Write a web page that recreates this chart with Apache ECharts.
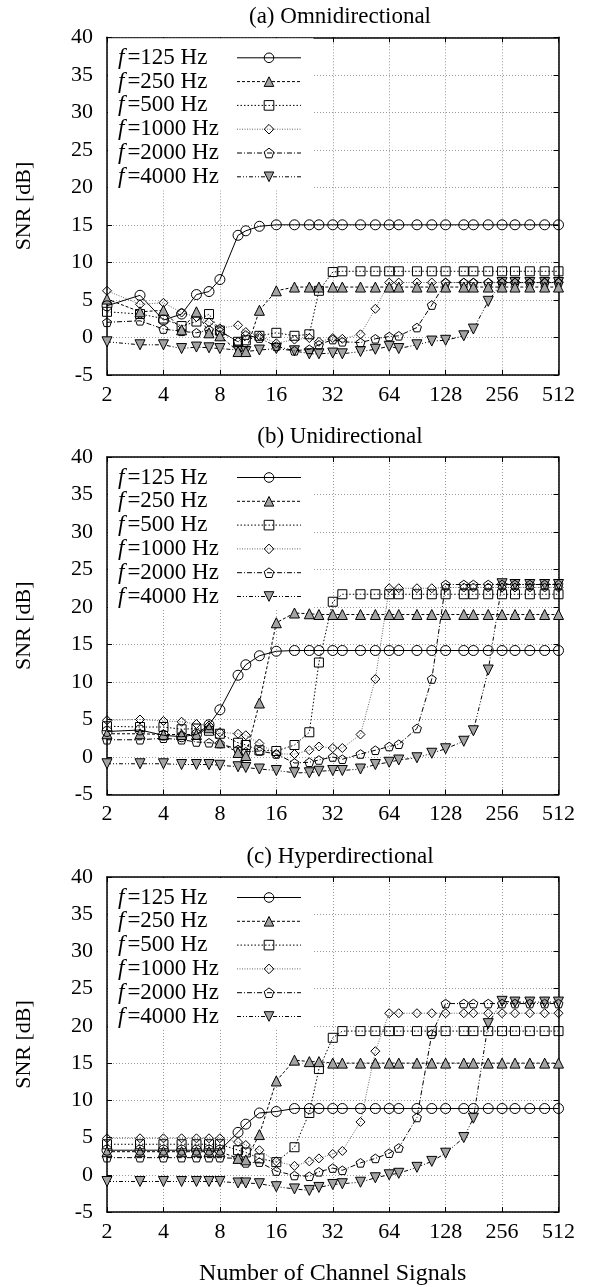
<!DOCTYPE html>
<html><head><meta charset="utf-8">
<script src="https://cdn.jsdelivr.net/npm/echarts@6/dist/echarts.min.js"></script>
<style>html,body{margin:0;padding:0;background:#fff}#c{width:589px;height:1287px}</style>
</head><body><div id="c"></div>
<script>
// ---- data ----
const channels = [2,3,4,5,6,7,8,10,11,13,16,20,24,27,32,36,45,54,64,72,90,108,128,160,180,216,256,300,360,432,512];
const seriesNames = ['f=125 Hz','f=250 Hz','f=500 Hz','f=1000 Hz','f=2000 Hz','f=4000 Hz'];
const panelTitles = ['(a) Omnidirectional','(b) Unidirectional','(c) Hyperdirectional'];
const xAxisTitle = 'Number of Channel Signals';
const yAxisTitle = 'SNR [dB]';
const yMin = -5, yMax = 40, yStep = 5;
const xMin = 2, xMax = 512;

// (a) Omnidirectional
const omni125  = [4.2,5.6,2.3,3.1,5.7,6.1,7.7,13.6,14.2,14.8,15.0,15.0,15.0,15.0,15.0,15.0,15.0,15.0,15.0,15.0,15.0,15.0,15.0,15.0,15.0,15.0,15.0,15.0,15.0,15.0,15.0];
const omni250  = [5.1,3.4,3.6,1.0,3.4,0.6,0.2,-1.9,-1.9,3.6,6.2,6.7,6.7,6.7,6.7,6.7,6.7,6.7,6.7,6.7,6.7,6.7,6.7,6.7,6.7,6.7,6.7,6.7,6.7,6.7,6.7];
const omni500  = [3.4,3.1,2.5,1.5,2.1,3.1,0.9,-0.6,-0.4,0.2,0.6,0.2,0.4,6.2,8.7,8.8,8.8,8.8,8.8,8.8,8.8,8.8,8.8,8.8,8.8,8.8,8.8,8.8,8.8,8.8,8.8];
const omni1000 = [6.2,4.4,4.6,3.3,2.7,2.0,1.2,1.6,0.7,0.2,-0.8,-0.3,-0.1,-0.6,-0.1,-0.2,0.4,3.8,7.3,7.3,7.3,7.3,7.3,7.3,7.3,7.3,7.3,7.3,7.3,7.3,7.3];
const omni2000 = [2.0,2.2,1.1,0.8,0.6,1.0,0.8,-0.6,0.3,-0.1,-1.2,-1.8,-1.6,-1.0,-0.3,-0.6,-0.7,-0.2,0.1,0.2,1.3,4.3,7.3,7.3,7.3,7.3,7.3,7.3,7.3,7.3,7.3];
const omni4000 = [-0.6,-1.0,-1.0,-1.5,-1.3,-1.4,-1.5,-1.7,-1.9,-1.7,-1.5,-1.8,-2.2,-2.2,-2.1,-2.2,-1.9,-1.6,-1.2,-1.5,-1.0,-0.5,-0.4,0.2,1.1,4.8,7.3,7.3,7.3,7.3,7.3];

// (b) Unidirectional
const uni125  = [3.4,3.6,2.9,2.7,3.0,4.3,6.3,10.9,12.3,13.5,14.1,14.2,14.2,14.2,14.2,14.2,14.2,14.2,14.2,14.2,14.2,14.2,14.2,14.2,14.2,14.2,14.2,14.2,14.2,14.2,14.2];
const uni250  = [3.1,3.1,3.0,3.0,3.0,3.9,1.9,0.6,0.2,7.2,17.9,19.2,19.1,19.0,19.0,19.0,19.0,19.0,19.0,19.0,19.0,19.0,19.0,19.0,19.0,19.0,19.0,19.0,19.0,19.0,19.0];
const uni500  = [4.1,4.0,4.0,3.7,3.8,3.5,3.1,1.9,1.6,0.9,0.8,1.6,3.3,12.6,20.7,21.7,21.7,21.7,21.7,21.7,21.7,21.7,21.7,21.7,21.7,21.7,21.7,21.7,21.7,21.7,21.7];
const uni1000 = [4.9,5.0,4.8,4.7,4.4,4.2,3.3,3.1,2.9,1.8,0.4,0.4,0.9,1.4,1.2,1.2,3.0,10.4,22.5,22.5,22.5,22.5,22.6,22.6,22.6,22.6,22.6,22.6,22.6,22.6,22.6];
const uni2000 = [2.3,2.3,2.5,2.3,2.0,1.9,1.8,1.0,0.7,0.8,0.4,-0.8,-0.7,-0.4,0.0,-0.3,0.4,0.9,1.4,1.7,3.8,10.4,23.0,23.0,23.0,23.0,23.0,23.0,23.0,23.0,23.0];
const uni4000 = [-0.9,-0.9,-0.9,-1.0,-1.0,-1.0,-1.1,-1.3,-1.4,-1.6,-1.8,-2.1,-2.1,-1.9,-1.8,-1.8,-1.6,-1.0,-0.7,-0.4,-0.1,0.5,1.1,2.1,3.5,11.6,23.1,23.0,23.0,23.0,23.0];

// (c) Hyperdirectional
const hyper125  = [3.3,3.3,3.3,3.3,3.3,3.3,3.3,5.7,6.8,8.3,8.5,8.9,8.9,8.9,8.9,8.9,8.9,8.9,8.9,8.9,8.9,8.9,8.9,8.9,8.9,8.9,8.9,8.9,8.9,8.9,8.9];
const hyper250  = [3.1,3.1,3.1,3.1,3.1,3.1,3.1,2.2,2.0,5.4,12.6,15.4,15.2,15.2,15.0,15.0,15.0,15.0,15.0,15.0,15.0,15.0,15.0,15.0,15.0,15.0,15.0,15.0,15.0,15.0,15.0];
const hyper500  = [4.1,4.1,4.1,4.1,4.1,4.1,4.1,3.3,3.0,2.2,1.7,3.7,8.3,14.2,18.4,19.3,19.3,19.3,19.3,19.3,19.3,19.3,19.3,19.3,19.3,19.3,19.3,19.3,19.3,19.3,19.3];
const hyper1000 = [4.9,4.9,4.9,4.9,4.9,4.9,4.9,4.4,4.0,3.3,1.8,1.2,1.8,2.2,2.8,3.2,7.1,16.6,21.7,21.7,21.7,21.7,21.7,21.7,21.7,21.7,21.7,21.7,21.7,21.7,21.7];
const hyper2000 = [2.3,2.3,2.3,2.3,2.3,2.3,2.3,2.2,1.6,1.7,0.5,-0.1,-0.2,0.4,0.9,0.6,1.6,2.2,2.9,3.6,7.7,18.9,23.0,23.0,23.0,23.0,23.0,23.0,23.0,23.0,23.0];
const hyper4000 = [-0.9,-0.9,-0.9,-0.9,-0.9,-0.9,-0.9,-1.1,-1.1,-1.2,-1.6,-1.9,-2.1,-1.7,-1.3,-1.2,-1.0,-0.4,0.0,0.2,1.0,1.8,2.9,5.0,7.6,20.3,23.3,23.2,23.2,23.2,23.2];

const panelData = [
  [omni125, omni250, omni500, omni1000, omni2000, omni4000],
  [uni125, uni250, uni500, uni1000, uni2000, uni4000],
  [hyper125, hyper250, hyper500, hyper1000, hyper2000, hyper4000]
];

// ---- styles ----
const FONT = '"Liberation Serif", "DejaVu Serif", serif';
const gridTops = [37.3, 457, 877];
const gridH = 337.5, gridLeft = 107, gridW = 451.5;
const hollow = 'rgba(255,255,255,0)';
const pentagon = 'path://M0,-1 L0.951,-0.309 L0.588,0.809 L-0.588,0.809 L-0.951,-0.309 Z';
const styles = [
  {symbol:'circle', size:10, fill:hollow, line:'solid', lc:'#000', rot:0},
  {symbol:'triangle', size:10, fill:'#a3a3a3', line:[3,2], lc:'#000', rot:0},
  {symbol:'rect', size:9, fill:hollow, line:[1.5,2], lc:'#000', rot:0},
  {symbol:'diamond', size:9, fill:hollow, line:[1,1.5], lc:'#666', rot:0},
  {symbol:pentagon, size:9, fill:hollow, line:[5,2,1,2], lc:'#000', rot:0},
  {symbol:'triangle', size:10, fill:'#a3a3a3', line:[4,2,1,2,1,2], lc:'#000', rot:180}
];

const grids = [], xAxes = [], yAxes = [], series = [], legends = [], titles = [];
panelData.forEach((vals, p) => {
  grids.push({left: gridLeft, top: gridTops[p], width: gridW, height: gridH, containLabel: false});
  const axLine = {show: true, onZero: false, lineStyle: {color: '#000', width: 1.5}};
  const tick = {show: true, inside: true, length: 5, lineStyle: {color: '#000', width: 1}};
  xAxes.push({
    type: 'log', logBase: 2, min: xMin, max: xMax, gridIndex: p, position: 'bottom',
    axisLine: axLine, axisTick: tick,
    axisLabel: {color: '#000', fontFamily: FONT, fontSize: 22, margin: 9},
    splitLine: {show: true, lineStyle: {color: '#9a9a9a', type: [1, 2], width: 1}},
    minorTick: {show: false},
    name: p === 2 ? xAxisTitle : '', nameLocation: 'middle', nameGap: 50,
    nameTextStyle: {color: '#000', fontFamily: FONT, fontSize: 24}
  });
  xAxes.push({
    type: 'log', logBase: 2, min: xMin, max: xMax, gridIndex: p, position: 'top',
    axisLine: axLine, axisTick: tick, axisLabel: {show: false}, splitLine: {show: false}
  });
  yAxes.push({
    type: 'value', min: yMin, max: yMax, interval: yStep, gridIndex: p, position: 'left',
    axisLine: axLine, axisTick: tick,
    axisLabel: {color: '#000', fontFamily: FONT, fontSize: 22, margin: 14},
    splitLine: {show: true, lineStyle: {color: '#9a9a9a', type: [1, 2], width: 1}},
    name: yAxisTitle, nameLocation: 'middle', nameGap: 72, nameRotate: 90,
    nameTextStyle: {color: '#000', fontFamily: FONT, fontSize: 22}
  });
  yAxes.push({
    type: 'value', min: yMin, max: yMax, interval: yStep, gridIndex: p, position: 'right',
    axisLine: axLine, axisTick: tick, axisLabel: {show: false}, splitLine: {show: false}
  });
  vals.forEach((arr, s) => {
    const st = styles[s];
    series.push({
      type: 'line', name: seriesNames[s],
      xAxisIndex: p * 2, yAxisIndex: p * 2,
      data: channels.map((c, i) => [c, arr[i]]),
      symbol: st.symbol, symbolSize: st.size, symbolRotate: st.rot, symbolKeepAspect: true,
      showAllSymbol: true,
      itemStyle: {color: st.fill, borderColor: '#000', borderWidth: 1},
      lineStyle: {color: st.lc, width: 1, type: st.line},
      z: 10 - s,
      animation: false,
      emphasis: {disabled: true}
    });
  });
  legends.push({
    show: true, orient: 'vertical', align: 'right',
    left: gridLeft + 1, top: gridTops[p] + 1,
    padding: [8, 12, 2, 10],
    backgroundColor: '#fff',
    itemGap: 0.8, itemWidth: 64, itemHeight: 12,
    data: seriesNames,
    selectedMode: false,
    lineStyle: {width: 1},
    itemStyle: {borderWidth: 1, borderColor: '#000'},
    formatter: (n) => '{i|f}{n|' + n.slice(1) + '}',
    textStyle: {
      width: 114, color: '#000', fontFamily: FONT, fontSize: 23, lineHeight: 20,
      rich: {
        i: {fontStyle: 'italic', fontFamily: FONT, fontSize: 23, lineHeight: 20, padding: [0, 3, 0, 0], color: '#000', align: 'left'},
        n: {fontFamily: FONT, fontSize: 23, lineHeight: 20, color: '#000', align: 'left'}
      }
    }
  });
  titles.push({
    text: panelTitles[p], left: 335, top: gridTops[p] - 37, textAlign: 'center',
    textStyle: {color: '#000', fontFamily: FONT, fontSize: 23, fontWeight: 'normal'}
  });
});

const chart = echarts.init(document.getElementById('c'), null, {renderer: 'canvas'});
chart.setOption({
  backgroundColor: '#fff',
  animation: false,
  title: titles,
  legend: legends,
  grid: grids,
  xAxis: xAxes,
  yAxis: yAxes,
  series: series
});
</script></body></html>
